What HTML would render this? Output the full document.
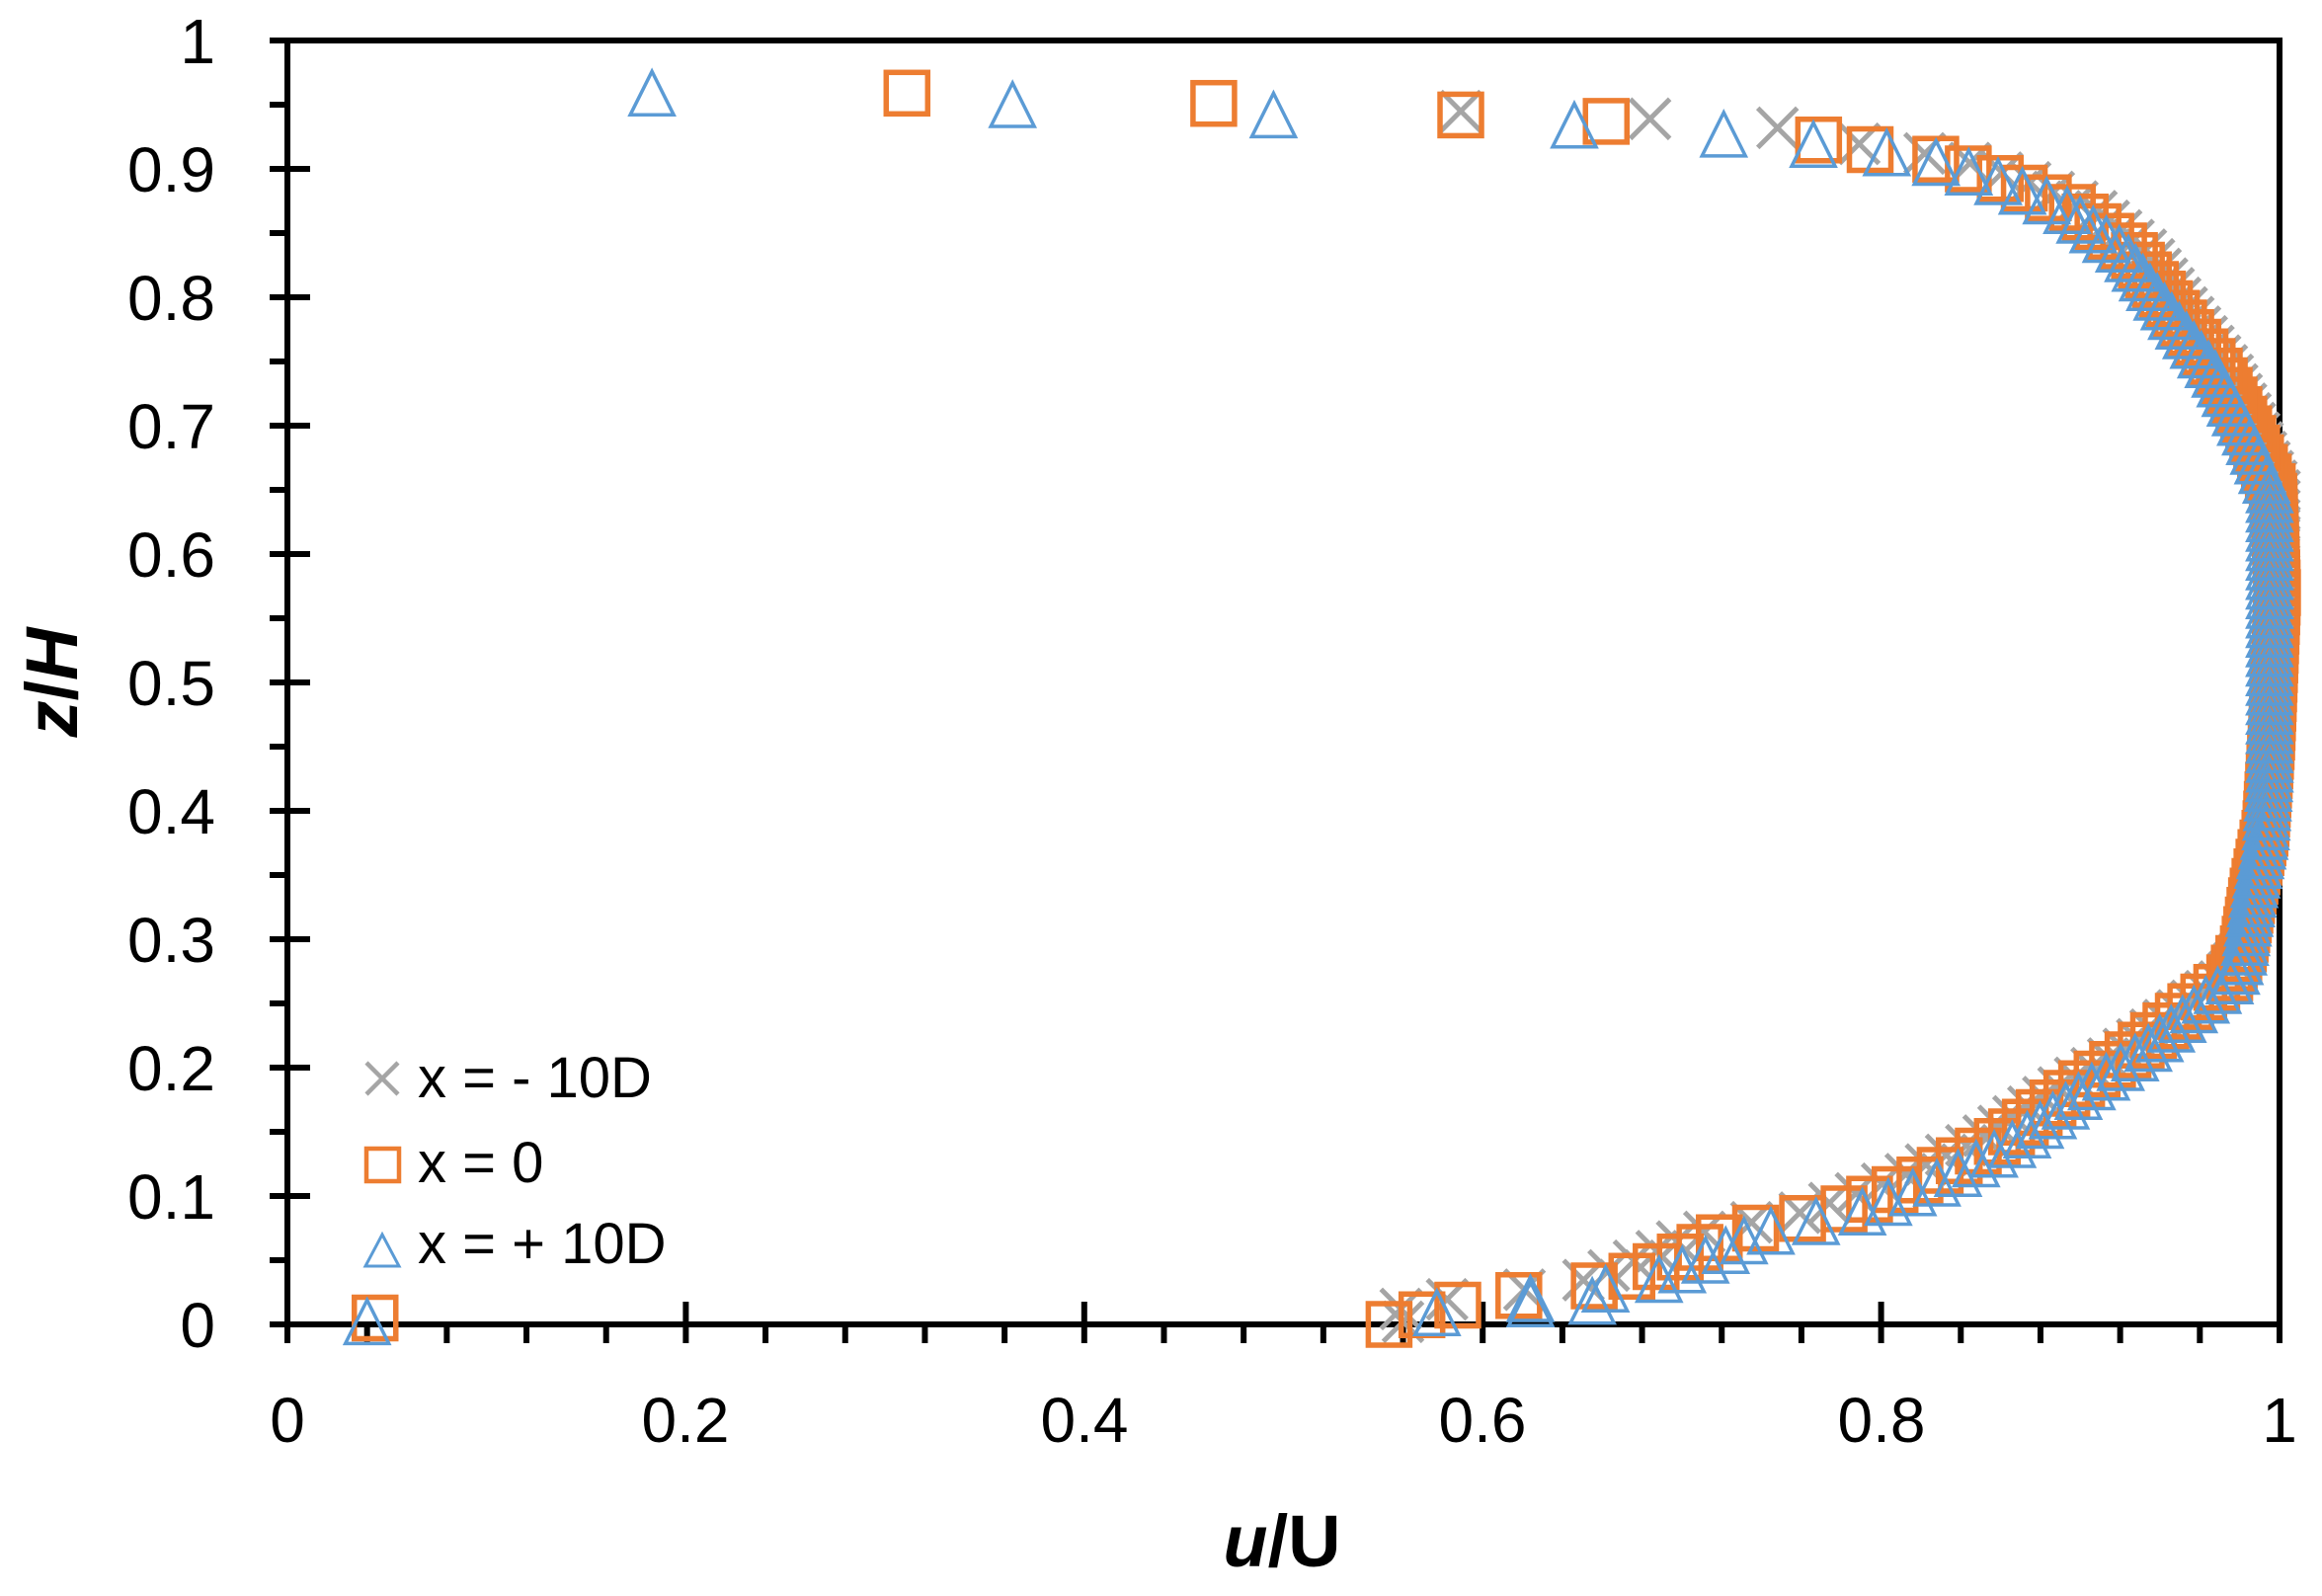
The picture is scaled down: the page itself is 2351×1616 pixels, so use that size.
<!DOCTYPE html>
<html><head><meta charset="utf-8"><style>
html,body{margin:0;padding:0;background:#fff;}
svg{display:block;}
text{font-family:"Liberation Sans",sans-serif;fill:#000;}
</style></head><body>
<svg id="s" width="2351" height="1616" viewBox="0 0 2351 1616" xmlns="http://www.w3.org/2000/svg">
<rect width="2351" height="1616" fill="#fff"/>
<g id="ax"></g>
<g id="pts"></g>
<g font-size="64" text-anchor="end">
<text x="218" y="1364">0</text><text x="218" y="1234">0.1</text><text x="218" y="1104">0.2</text>
<text x="218" y="974">0.3</text><text x="218" y="844">0.4</text><text x="218" y="714">0.5</text>
<text x="218" y="584">0.6</text><text x="218" y="454">0.7</text><text x="218" y="324">0.8</text>
<text x="218" y="194">0.9</text><text x="218" y="64">1</text>
</g>
<g font-size="64" text-anchor="middle">
<text x="291" y="1460">0</text><text x="694" y="1460">0.2</text><text x="1098" y="1460">0.4</text>
<text x="1501" y="1460">0.6</text><text x="1905" y="1460">0.8</text><text x="2308" y="1460">1</text>
</g>
<text x="1298" y="1586" font-size="74" font-weight="bold" text-anchor="middle"><tspan font-style="italic">u</tspan>/U</text>
<text transform="translate(78,691) rotate(-90)" font-size="74" font-weight="bold" text-anchor="middle"><tspan font-style="italic">z</tspan>/<tspan font-style="italic">H</tspan></text>
<g font-size="58">
<text x="423" y="1111">x = - 10D</text>
<text x="423" y="1197">x = 0</text>
<text x="423" y="1279">x = + 10D</text>
</g>
<g fill="none">
<path d="M371 1076 L403 1108 M403 1076 L371 1108" stroke="#A5A5A5" stroke-width="4.5"/>
<rect x="371" y="1163" width="33" height="33" stroke="#ED7D31" stroke-width="4.5"/>
<path d="M387 1250 L404 1282 L370 1282 Z" stroke="#5B9BD5" stroke-width="3"/>
</g>
</svg>
<script>
function X(u){return 291+u*2017;}function Y(z){return 1341-z*1300;}
var ax=document.getElementById('ax'),h='';
h+='<rect x="291" y="41" width="2017" height="1300" fill="none" stroke="#000" stroke-width="6"/>';
h+='<line x1="273" y1="41" x2="291" y2="41" stroke="#000" stroke-width="6"/>';
for(var i=0;i<=20;i++){var y=Y(i*0.05);var maj=i%2==0;
 h+='<line x1="273" y1="'+y+'" x2="'+(maj?314:291)+'" y2="'+y+'" stroke="#000" stroke-width="6"/>';}
for(var i=0;i<=25;i++){var x=X(i*0.04);var maj=i%5==0;
 h+='<line x1="'+x+'" y1="'+(maj?1318:1341)+'" x2="'+x+'" y2="1360" stroke="#000" stroke-width="6"/>';}
ax.innerHTML=h;
var K=[[0,0.553],[0.01,0.575],[0.018,0.595],[0.025,0.631],[0.032,0.666],[0.053,0.70],[0.07,0.722],[0.076,0.74],[0.088,0.778],[0.105,0.807],[0.114,0.822],[0.143,0.859],[0.183,0.896],[0.212,0.926],[0.247,0.955],[0.27,0.975],[0.293,0.982],[0.34,0.987],[0.385,0.993],[0.455,0.996],[0.57,0.999],[0.65,0.997],[0.696,0.985],[0.742,0.97],[0.788,0.948],[0.835,0.926],[0.87,0.896],[0.893,0.859],[0.91,0.822],[0.916,0.789],[0.922,0.77],[0.93,0.748]];
function base(z){for(var i=1;i<K.length;i++){if(z<=K[i][0]){var a=K[i-1],b=K[i];return a[1]+(b[1]-a[1])*(z-a[0])/(b[0]-a[0]);}}return K[K.length-1][1];}
var out='';
function xm(u,z){var x=X(u),y=Y(z),d=20;return '<path d="M'+(x-d)+' '+(y-d)+'L'+(x+d)+' '+(y+d)+'M'+(x+d)+' '+(y-d)+'L'+(x-d)+' '+(y+d)+'" stroke="#A5A5A5" stroke-width="5" fill="none"/>';}
function sq(u,z){var x=X(u),y=Y(z),d=21;return '<rect x="'+(x-d)+'" y="'+(y-d)+'" width="'+2*d+'" height="'+2*d+'" stroke="#ED7D31" stroke-width="5.5" fill="none"/>';}
function tr(u,z){var x=X(u),y=Y(z),d=22;return '<path d="M'+x+' '+(y-d)+'L'+(x+d)+' '+(y+d)+'L'+(x-d)+' '+(y+d)+'Z" stroke="#5B9BD5" stroke-width="3.5" fill="none"/>';}
function off(z,lo,hi){return z<0.3?lo*(1-z/0.3):hi*Math.max(0,(z-0.55)/0.4);}
for(var z=0.012;z<=0.925;z+=0.0075){out+=xm(Math.min(1.0,base(z)+off(z,-0.022,0.012)),z);}
out+=xm(0.589,0.945)+xm(0.684,0.939)+xm(0.748,0.932)+xm(0.56,0.002);
for(var z=0.0;z<=0.925;z+=0.0075){out+=sq(base(z),z);}
out+=sq(0.044,0.005)+sq(0.311,0.959)+sq(0.465,0.951)+sq(0.589,0.942)+sq(0.662,0.937);
for(var z=0.02;z<=0.915;z+=0.0075){out+=tr(Math.min(0.995,base(z)+off(z,0.02,-0.006)),z);}
out+=tr(0.04,0.002)+tr(0.577,0.009)+tr(0.624,0.016)+tr(0.655,0.018)+tr(0.183,0.959)+tr(0.364,0.95)+tr(0.495,0.942)+tr(0.646,0.934)+tr(0.721,0.927)+tr(0.766,0.919);
document.getElementById('pts').innerHTML=out;
</script>
</body></html>
